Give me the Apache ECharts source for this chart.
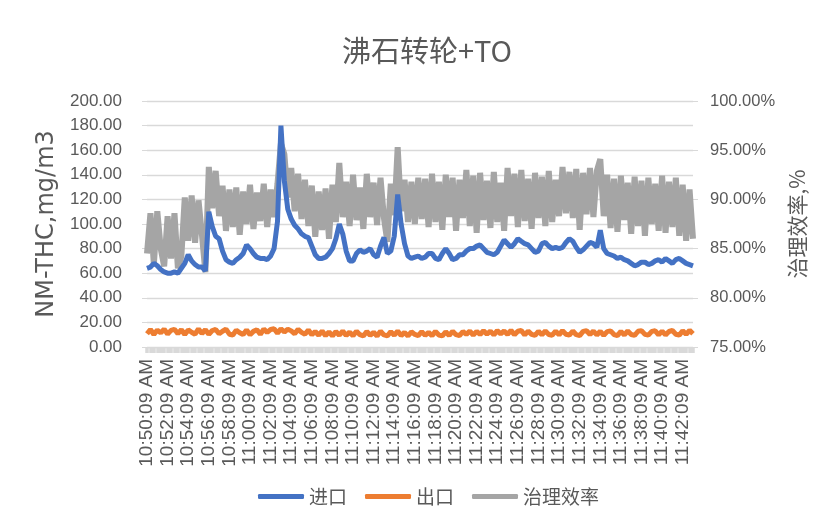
<!DOCTYPE html>
<html>
<head>
<meta charset="utf-8">
<script src="https://cdn.jsdelivr.net/npm/echarts@6/dist/echarts.min.js"></script>
<style>
  html, body { margin: 0; padding: 0; background: #fff; }
  #chart { width: 826px; height: 524px; }
</style>
</head>
<body>
<div id="chart"></div>
<script>
// 进口 NM-THC (mg/m3), one reading every 20 s from 10:50:09
var inlet = [
  64, 65, 68, 66, 63, 61, 60, 60, 61, 60, 64, 68, 75, 70, 67, 65, 65, 62, 110, 98,
  90, 88, 78, 71, 69, 68, 71, 73, 76, 83, 80, 76, 73, 72, 72, 71, 74, 80, 102, 180,
  135, 112, 104, 99, 96, 92, 90, 89, 82, 75, 72, 72, 73, 76, 80, 88, 100, 92, 78, 70,
  70, 76, 79, 77, 78, 80, 75, 73, 82, 89, 76, 78, 90, 124, 100, 84, 74, 72, 73, 74,
  72, 73, 76, 76, 72, 71, 76, 80, 76, 71, 72, 75, 75, 78, 80, 80, 82, 83, 80, 77,
  76, 75, 77, 82, 87, 84, 81, 84, 88, 86, 84, 83, 80, 77, 78, 84, 85, 82, 80, 81,
  80, 81, 85, 88, 86, 81, 77, 79, 82, 85, 84, 81, 95, 80, 76, 75, 74, 72, 73, 71,
  70, 68, 66, 67, 69, 69, 67, 68, 70, 71, 69, 72, 70, 68, 71, 72, 70, 68, 67, 66
];
// 出口 NM-THC (mg/m3)
var outlet = [
  10.8, 14.2, 10.2, 13.8, 11.4, 14.6, 10.5, 13.5, 14.4, 10.9, 14.0, 10.1, 13.9, 12.0, 10.4, 14.7, 11.0, 14.1, 10.3, 13.4,
  14.3, 10.7, 12.8, 14.5, 10.4, 9.8, 13.7, 11.6, 10.1, 13.9, 9.9, 12.7, 14.0, 10.3, 14.6, 11.9, 14.2, 14.8, 11.3, 14.9,
  12.2, 14.5, 13.1, 10.8, 14.3, 11.9, 10.4, 13.8, 10.0, 12.6, 9.6, 13.0, 9.2, 12.3, 9.0, 12.6, 9.5, 13.0, 9.3, 12.1,
  9.1, 12.9, 10.0, 9.0, 12.6, 9.4, 12.0, 8.9, 12.8, 9.8, 9.1, 12.5, 9.6, 12.9, 9.3, 11.9, 9.0, 12.3, 10.2, 9.2,
  12.5, 9.4, 11.9, 9.1, 12.7, 9.7, 9.0, 12.4, 9.3, 12.8, 10.0, 9.2, 12.6, 10.3, 13.0, 9.6, 12.7, 10.2, 13.2, 10.5,
  12.9, 9.8, 13.3, 10.6, 13.0, 10.2, 13.5, 9.9, 12.8, 13.4, 9.8, 12.9, 10.3, 9.4, 12.8, 9.9, 13.1, 10.2, 9.6, 12.9,
  9.9, 13.3, 10.4, 9.7, 13.0, 10.0, 9.3, 12.7, 13.2, 10.2, 12.9, 9.8, 12.8, 9.4, 12.5, 13.1, 10.1, 9.3, 12.7, 9.8,
  13.0, 10.2, 9.5, 12.8, 13.3, 10.3, 9.6, 12.7, 13.2, 9.9, 12.9, 9.8, 12.6, 13.4, 10.4, 9.7, 13.2, 10.3, 13.5, 10.8
];
// 治理效率 (%)
var efficiency = [
  84.5, 88.6, 83.4, 88.8, 85.0, 83.2, 88.3, 84.0, 88.6, 83.0, 84.2, 90.2, 85.8, 90.4, 85.6, 89.9, 86.4, 82.6, 93.3, 89.1,
  92.9, 88.3, 91.4, 86.8, 91.0, 87.2, 91.2, 86.4, 90.8, 87.5, 91.5, 87.0, 90.7, 87.8, 91.6, 87.2, 91.0, 88.2, 91.6, 95.7,
  94.6, 90.2, 93.2, 88.8, 92.6, 88.0, 92.0, 87.3, 91.4, 86.2, 90.8, 86.9, 91.1, 86.0, 91.5, 87.7, 93.7, 88.2, 91.8, 87.3,
  92.5, 87.9, 91.2, 87.0, 92.6, 88.2, 91.7, 87.4, 92.2, 88.1, 85.7, 91.6, 88.4, 95.3, 88.8, 92.0, 87.7, 91.8, 87.5, 92.2,
  88.0, 92.1, 87.2, 92.6, 87.7, 91.8, 86.9, 92.5, 88.2, 92.2, 86.8, 92.0, 88.1, 93.0, 87.3, 92.4, 86.6, 92.7, 87.9, 91.9,
  87.1, 92.8, 87.7, 91.7, 86.8, 93.2, 88.3, 92.6, 87.2, 93.0, 87.8, 92.1, 87.0, 92.7, 88.1, 92.3, 87.3, 92.9, 87.7, 92.0,
  88.3, 93.3, 88.6, 92.8, 88.1, 93.1, 86.9, 92.7, 88.5, 93.2, 88.2, 92.9, 94.1, 88.3, 92.5, 87.1, 92.1, 86.7, 92.4, 87.9,
  91.7, 86.5, 92.3, 87.3, 91.9, 86.3, 92.2, 87.5, 91.6, 86.8, 92.4, 86.6, 91.8, 87.2, 92.2, 86.3, 91.5, 85.8, 91.0, 86.0
];
var tickLabels = [
  "10:50:09 AM", "10:52:09 AM", "10:54:09 AM", "10:56:09 AM", "10:58:09 AM", "11:00:09 AM", "11:02:09 AM",
  "11:04:09 AM", "11:06:09 AM", "11:08:09 AM", "11:10:09 AM", "11:12:09 AM", "11:14:09 AM", "11:16:09 AM",
  "11:18:09 AM", "11:20:09 AM", "11:22:09 AM", "11:24:09 AM", "11:26:09 AM", "11:28:09 AM", "11:30:09 AM",
  "11:32:09 AM", "11:34:09 AM", "11:36:09 AM", "11:38:09 AM", "11:40:09 AM", "11:42:09 AM"
];

// category times, 20 s apart
function pad(n) { return n < 10 ? "0" + n : "" + n; }
var categories = [];
for (var i = 0; i < inlet.length; i++) {
  var s = 10 * 3600 + 50 * 60 + 9 + i * 20;
  categories.push(Math.floor(s / 3600) + ":" + pad(Math.floor(s / 60) % 60) + ":" + pad(s % 60) + " AM");
}

var grey = "#595959";
var lineGrey = "#d9d9d9";
var chart = echarts.init(document.getElementById("chart"));
chart.setOption({
  animation: false,
  title: {
    text: "沸石转轮+TO",
    left: 422,
    top: 31,
    textAlign: "center",
    textStyle: { color: grey, fontSize: 29, fontWeight: "normal", fontFamily: "Noto Sans CJK SC" }
  },
  legend: {
    data: ["进口", "出口", "治理效率"],
    left: 253,
    bottom: 13,
    icon: "roundRect",
    itemWidth: 46,
    itemHeight: 5,
    itemGap: 18,
    textStyle: { color: grey, fontSize: 19, fontFamily: "Noto Sans CJK SC" }
  },
  grid: { left: 147, right: 133, top: 101, bottom: 177 },
  xAxis: {
    type: "category",
    boundaryGap: false,
    data: categories,
    axisLine: { lineStyle: { color: lineGrey, width: 1 } },
    axisTick: { show: true, interval: 0, length: 6, lineStyle: { color: lineGrey, width: 3.5 } },
    axisLabel: {
      rotate: 90,
      margin: 12,
      padding: [0, 0, 22, 0],
      color: grey,
      fontSize: 19,
      fontFamily: "Liberation Sans",
      interval: function (idx, val) { return tickLabels.indexOf(val) >= 0; }
    }
  },
  yAxis: [
    {
      type: "value",
      min: 0,
      max: 200,
      interval: 20,
      name: "NM-THC,mg/m3",
      nameLocation: "middle",
      nameRotate: 90,
      nameGap: 87,
      nameTextStyle: { color: grey, fontSize: 24, fontFamily: "DejaVu Sans" },
      axisLine: { show: false },
      axisTick: { show: true, length: 5, lineStyle: { color: lineGrey } },
      axisLabel: {
        margin: 25,
        color: grey,
        fontSize: 17,
        fontFamily: "Liberation Sans",
        formatter: function (v) { return v.toFixed(2); }
      },
      splitLine: { lineStyle: { color: lineGrey, width: 1.3 } }
    },
    {
      type: "value",
      min: 75,
      max: 100,
      interval: 5,
      position: "right",
      name: "治理效率,%",
      nameLocation: "middle",
      nameRotate: 90,
      nameGap: 87,
      nameTextStyle: { color: grey, fontSize: 21, fontFamily: "Noto Sans CJK SC" },
      axisLine: { show: false },
      axisTick: { show: true, length: 5, lineStyle: { color: lineGrey } },
      axisLabel: {
        margin: 17,
        color: grey,
        fontSize: 16.5,
        fontFamily: "Liberation Sans",
        formatter: function (v) { return v.toFixed(2) + "%"; }
      },
      splitLine: { show: false }
    }
  ],
  series: [
    {
      name: "进口",
      type: "line",
      data: inlet,
      showSymbol: false,
      z: 4,
      itemStyle: { color: "#4472c4" },
      lineStyle: { color: "#4472c4", width: 5 }
    },
    {
      name: "出口",
      type: "line",
      data: outlet,
      showSymbol: false,
      z: 3,
      itemStyle: { color: "#ed7d31" },
      lineStyle: { color: "#ed7d31", width: 5 }
    },
    {
      name: "治理效率",
      type: "line",
      yAxisIndex: 1,
      data: efficiency,
      showSymbol: false,
      z: 2,
      itemStyle: { color: "#a5a5a5" },
      lineStyle: { color: "#a5a5a5", width: 6 }
    }
  ]
});
</script>
</body>
</html>
